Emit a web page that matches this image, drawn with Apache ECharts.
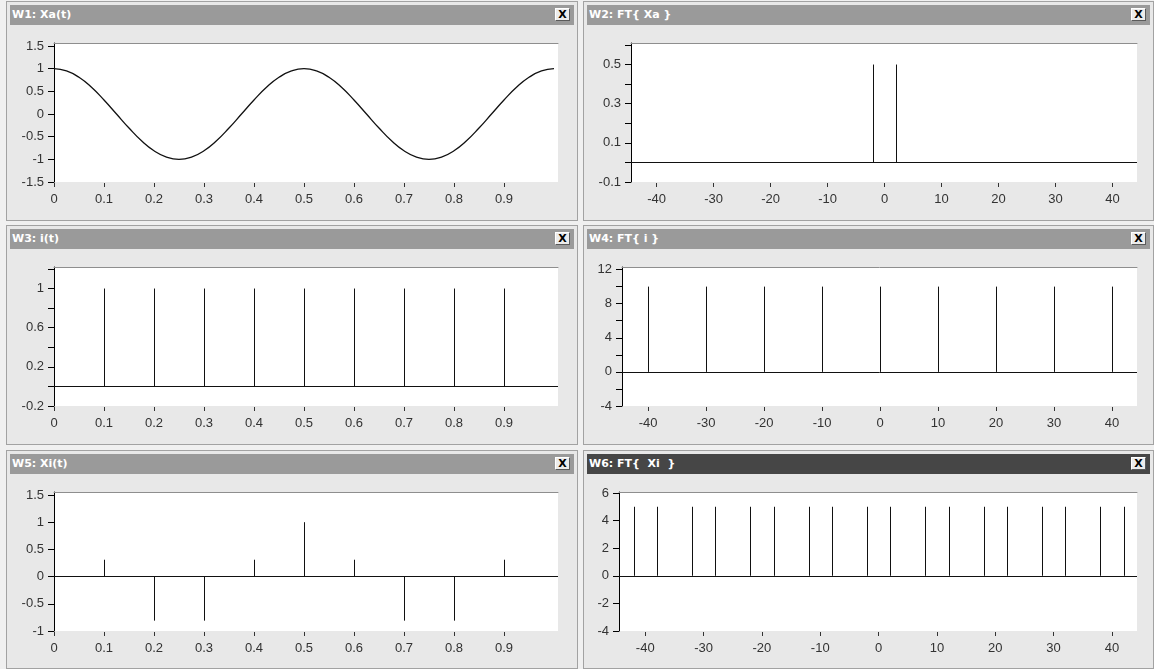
<!DOCTYPE html>
<html>
<head>
<meta charset="UTF-8">
<title>W1 - W6</title>
<script src="https://cdn.jsdelivr.net/npm/echarts@6/dist/echarts.min.js"></script>
<style>
  body { margin:0; width:1154px; height:669px; background:#f0f0f0; position:relative; overflow:hidden; }
  .win { position:absolute; box-sizing:border-box; border:1px solid #a2a2a2; background:#e8e8e8; }
  .bar { position:absolute; left:3px; right:3px; top:3px; height:20px; background:#9a9a9a; color:#fff;
         font:bold 11px "DejaVu Sans", sans-serif; line-height:20px; padding-left:2px; white-space:pre; }
  .bar.on { background:#464646; }
  .x { position:absolute; right:4px; top:3px; width:15px; height:13px; box-sizing:border-box; background:#ececec;
       border:1px solid; border-color:#fff #5a5a5a #5a5a5a #fff; color:#000;
       font:bold 11px "DejaVu Sans", sans-serif; line-height:11px; text-align:center; }
  #chart { position:absolute; left:0; top:0; width:1154px; height:669px; }
</style>
</head>
<body>
<div class="win" style="left:6px;top:1px;width:572px;height:220px"><div class="bar">W1: Xa(t)<span class="x">X</span></div></div>
<div class="win" style="left:583px;top:1px;width:571px;height:220px"><div class="bar">W2: FT{ Xa }<span class="x">X</span></div></div>
<div class="win" style="left:6px;top:225px;width:572px;height:220px"><div class="bar">W3: i(t)<span class="x">X</span></div></div>
<div class="win" style="left:583px;top:225px;width:571px;height:220px"><div class="bar">W4: FT{ i }<span class="x">X</span></div></div>
<div class="win" style="left:6px;top:450px;width:572px;height:219px"><div class="bar">W5: Xi(t)<span class="x">X</span></div></div>
<div class="win" style="left:583px;top:450px;width:571px;height:219px"><div class="bar on">W6: FT{  Xi  }<span class="x">X</span></div></div>
<div id="chart"></div>
<script>
var xaT = [0,0.025,0.05,0.075,0.1,0.125,0.15,0.175,0.2,0.225,0.25,0.275,0.3,0.325,0.35,0.375,0.4,0.425,0.45,0.475,
           0.5,0.525,0.55,0.575,0.6,0.625,0.65,0.675,0.7,0.725,0.75,0.775,0.8,0.825,0.85,0.875,0.9,0.925,0.95,0.975,1];
var xaVal = [1,0.95,0.81,0.59,0.31,0,-0.31,-0.59,-0.81,-0.95,-1,-0.95,-0.81,-0.59,-0.31,0,0.31,0.59,0.81,0.95,
             1,0.95,0.81,0.59,0.31,0,-0.31,-0.59,-0.81,-0.95,-1,-0.95,-0.81,-0.59,-0.31,0,0.31,0.59,0.81,0.95,1];
// W2: FT{ Xa }
var ftXaFreq = [-2, 2];
var ftXaMag = [0.5, 0.5];
// W3: i(t)
var iT = [0.1,0.2,0.3,0.4,0.5,0.6,0.7,0.8,0.9];
var iVal = [1,1,1,1,1,1,1,1,1];
// W4: FT{ i }
var ftIFreq = [-40,-30,-20,-10,0,10,20,30,40];
var ftIMag = [10,10,10,10,10,10,10,10,10];
// W5: Xi(t)
var xiT = [0.1,0.2,0.3,0.4,0.5,0.6,0.7,0.8,0.9];
var xiVal = [0.31,-0.81,-0.81,0.31,1,0.31,-0.81,-0.81,0.31];
// W6: FT{ Xi }
var ftXiFreq = [-42,-38,-32,-28,-22,-18,-12,-8,-2,2,8,12,18,22,28,32,38,42];
var ftXiMag = [5,5,5,5,5,5,5,5,5,5,5,5,5,5,5,5,5,5];

// tick labels
var timeTicks = [0,0.1,0.2,0.3,0.4,0.5,0.6,0.7,0.8,0.9];
var freqTicks = [-40,-30,-20,-10,0,10,20,30,40];
var w1YTicks = [-1.5,-1,-0.5,0,0.5,1,1.5];
var w2YTicks = [-0.1,0,0.1,0.2,0.3,0.4,0.5,0.6];
var w2YLabels = [-0.1,0.1,0.3,0.5];
var w3YTicks = [-0.2,0,0.2,0.4,0.6,0.8,1,1.2];
var w3YLabels = [-0.2,0.2,0.6,1];
var w4YTicks = [-4,-2,0,2,4,6,8,10,12];
var w4YLabels = [-4,0,4,8,12];
var w5YTicks = [-1,-0.5,0,0.5,1,1.5];
var w6YTicks = [-4,-2,0,2,4,6];

function zip(a, b) {
    var r = [];
    for (var i = 0; i < a.length; i++) r.push([a[i], b[i]]);
    return r;
}

var panels = [
    {left:54,  top:43,  width:504, x:[0,1.008],    xt:timeTicks, y:[-1.5,1.567], yt:w1YTicks, yl:w1YTicks, line:zip(xaT, xaVal)},
    {left:631, top:43,  width:506, x:[-44.5,44.3], xt:freqTicks, y:[-0.1,0.61],  yt:w2YTicks, yl:w2YLabels, stem:zip(ftXaFreq, ftXaMag)},
    {left:54,  top:267, width:504, x:[0,1.008],    xt:timeTicks, y:[-0.2,1.22],  yt:w3YTicks, yl:w3YLabels, stem:zip(iT, iVal)},
    {left:622, top:267, width:515, x:[-44.5,44.3], xt:freqTicks, y:[-4,12.3],    yt:w4YTicks, yl:w4YLabels, stem:zip(ftIFreq, ftIMag)},
    {left:54,  top:492, width:504, x:[0,1.008],    xt:timeTicks, y:[-1,1.555],   yt:w5YTicks, yl:w5YTicks, stem:zip(xiT, xiVal)},
    {left:619, top:492, width:518, x:[-44.5,44.3], xt:freqTicks, y:[-4,6.07],    yt:w6YTicks, yl:w6YTicks, stem:zip(ftXiFreq, ftXiMag)}
];

var labelFont = { color:'#333', fontSize:13, fontFamily:'"Liberation Sans", Arial, sans-serif' };

function stemItem(params, api) {
    var p0 = api.coord([api.value(0), 0]);
    var p1 = api.coord([api.value(0), api.value(1)]);
    var x = Math.round(p0[0]) + 0.5;
    return { type:'line', shape:{ x1:x, y1:p0[1], x2:x, y2:p1[1] }, style:{ stroke:'#111', lineWidth:1 } };
}

var grid = [], xAxis = [], yAxis = [], series = [];
panels.forEach(function (p, i) {
    grid.push({ left:p.left, top:p.top, width:p.width, height:139, show:true, backgroundColor:'#fff', borderWidth:0 });
    xAxis.push({
        type:'value', gridIndex:i, min:p.x[0], max:p.x[1], position:'bottom', offset:1,
        axisLine:{ show:false, onZero:false },
        axisTick:{ show:true, length:4, lineStyle:{ color:'#333' }, customValues:p.xt },
        axisLabel:Object.assign({ margin:10, customValues:p.xt }, labelFont),
        splitLine:{ show:false }
    });
    xAxis.push({
        type:'value', gridIndex:i, min:p.x[0], max:p.x[1], position:'top',
        axisLine:{ show:true, onZero:false, lineStyle:{ color:'#8e8e8e' } },
        axisTick:{ show:false }, axisLabel:{ show:false }, splitLine:{ show:false }
    });
    yAxis.push({
        type:'value', gridIndex:i, min:p.y[0], max:p.y[1],
        axisLine:{ show:true, onZero:false, lineStyle:{ color:'#000' } },
        axisTick:{ show:true, length:6, lineStyle:{ color:'#000' }, customValues:p.yt },
        axisLabel:Object.assign({ margin:10, customValues:p.yl }, labelFont),
        splitLine:{ show:false }
    });
    if (p.line) {
        series.push({
            type:'line', xAxisIndex:2 * i, yAxisIndex:i, data:p.line, smooth:true,
            showSymbol:false, symbol:'none', lineStyle:{ color:'#111', width:1.3 }, silent:true
        });
    } else {
        series.push({
            type:'custom', xAxisIndex:2 * i, yAxisIndex:i, data:p.stem, encode:{ x:0, y:1 },
            renderItem:stemItem, silent:true,
            markLine:{
                silent:true, symbol:['none','none'], label:{ show:false },
                lineStyle:{ color:'#111', width:1, type:'solid' }, emphasis:{ disabled:true },
                data:[{ yAxis:0 }]
            }
        });
    }
});

var chart = echarts.init(document.getElementById('chart'), null, { renderer:'canvas' });
chart.setOption({ animation:false, grid:grid, xAxis:xAxis, yAxis:yAxis, series:series });
</script>
</body>
</html>
